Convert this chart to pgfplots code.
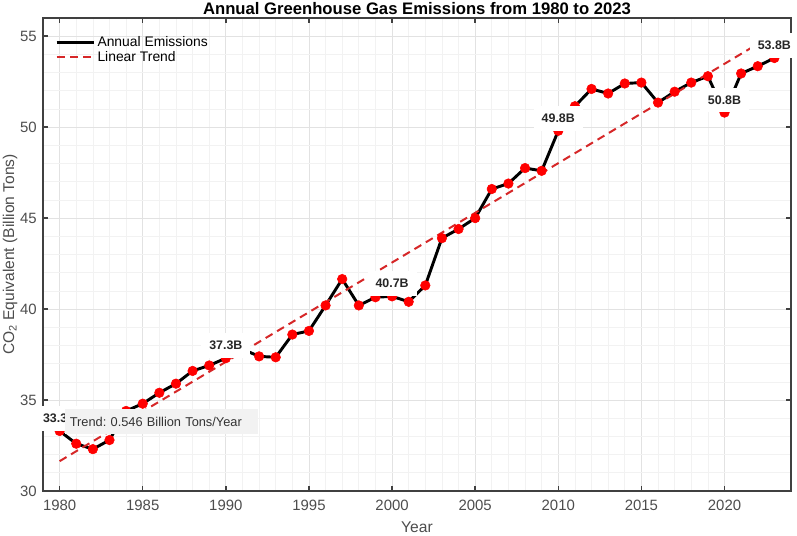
\documentclass[border=0pt]{standalone}
\usepackage{fontspec}
\setmainfont{Liberation Sans}
\usepackage{pgfplots}
\pgfplotsset{compat=1.18}

\definecolor{axisgray}{RGB}{64,64,64}
\definecolor{labelgray}{RGB}{77,77,77}
\definecolor{gridmajor}{RGB}{226,226,226}
\definecolor{gridminor}{RGB}{242,242,242}
\definecolor{trendred}{RGB}{214,39,40}
\definecolor{boxgray}{RGB}{242,242,242}

\pgfplotstableread{
year value
1980 33.3
1981 32.6
1982 32.3
1983 32.8
1984 34.4
1985 34.8
1986 35.4
1987 35.9
1988 36.6
1989 36.9
1990 37.3
1991 37.8
1992 37.4
1993 37.35
1994 38.6
1995 38.8
1996 40.2
1997 41.65
1998 40.2
1999 40.65
2000 40.7
2001 40.4
2002 41.3
2003 43.9
2004 44.4
2005 45.0
2006 46.6
2007 46.9
2008 47.75
2009 47.6
2010 49.8
2011 51.15
2012 52.1
2013 51.85
2014 52.4
2015 52.45
2016 51.35
2017 51.95
2018 52.45
2019 52.8
2020 50.8
2021 52.95
2022 53.35
2023 53.8
}\emissions

\pgfplotstableread{
year value
1980 31.64
2023 55.12
}\trend

\begin{document}
\frenchspacing
\begin{tikzpicture}
\begin{axis}[
  set layers,
  scale only axis,
  width=561pt, height=354.75pt,
  xmin=1979, xmax=2024,
  ymin=30, ymax=56,
  xtick={1980,1985,...,2020},
  ytick={30,35,...,55},
  minor x tick num=4,
  minor y tick num=4,
  grid=both,
  major grid style={gridmajor, line width=0.6pt},
  minor grid style={gridminor, line width=0.5pt},
  axis line style={axisgray, line width=1.1pt},
  tick style={axisgray, line width=1.1pt},
  major tick length=4pt,
  minor tick length=0pt,
  tick align=inside,
  xtick pos=both, ytick pos=both,
  /pgf/number format/assume math mode=true,
  /pgf/number format/1000 sep={},
  tick label style={font=\fontsize{11.2}{13}\selectfont, text=labelgray},
  xticklabel style={anchor=north, inner sep=0pt, yshift=-6.5pt},
  yticklabel style={anchor=east, inner sep=0pt, xshift=-4.5pt},
  xlabel={Year},
  ylabel={CO\textsubscript{2} Equivalent (Billion Tons)},
  label style={font=\fontsize{11.7}{14}\selectfont, text=labelgray},
  xlabel style={at={(axis description cs:0.5,-0.076)}, anchor=center},
  ylabel style={at={(axis description cs:-0.044,0.5)}, anchor=center, rotate=0},
  every axis title shift=0pt,
  title={Annual Greenhouse Gas Emissions from 1980 to 2023},
  title style={font=\bfseries\fontsize{12.5}{15}\selectfont, at={(axis description cs:0.5,1.021)}, anchor=center},
  clip=false,
  legend style={at={(0,1)}, anchor=north west, draw=none, fill=none,
    font=\fontsize{10.4}{12}\selectfont, text=black,
    xshift=6pt, yshift=-10pt, row sep=-1pt,
    nodes={inner sep=1.5pt}},
  legend cell align=left,
  legend image code/.code={\draw[#1] (0pt,0pt) -- (28pt,0pt);},
]
% yearly series: line, then the red markers on top
\addplot[black, line width=2.2pt, line join=round] table[x=year, y=value] {\emissions};
\addlegendentry{Annual Emissions}
\addplot[only marks, mark=*, mark size=3.6pt, mark options={fill=red, draw=red}, forget plot]
  table[x=year, y=value] {\emissions};
% least-squares trend
\addplot[trendred, line width=1.5pt, dash pattern=on 6pt off 4pt] table[x=year, y=value] {\trend};
\addlegendentry{Linear Trend}

\begin{pgfonlayer}{axis foreground}
% value labels every ten years and at the last year
\begin{scope}[every node/.style={anchor=south, fill=white, inner xsep=6pt, inner ysep=6pt,
    font=\bfseries\fontsize{9.3}{11}\selectfont, text=black!85}]
\node at (axis cs:1980,33.3) {33.3B};
\node at (axis cs:1990,37.3) {37.3B};
\node at (axis cs:2000,40.7) {40.7B};
\node at (axis cs:2010,49.8) {49.8B};
\node at (axis cs:2020,50.8) {50.8B};
\node at (axis cs:2023,53.8) {53.8B};
\end{scope}

\node[anchor=west, fill=boxgray, inner xsep=3.75pt, inner ysep=0pt, minimum height=18.75pt,
  text width=137pt, align=left, font=\fontsize{9.6}{11}\selectfont, text=black!80]
  at (axis cs:1980.3,33.8) {Trend: 0.546 Billion Tons/Year};
\end{pgfonlayer}
\end{axis}
\pgfresetboundingbox
\path[use as bounding box] (current axis.south west) ++(-32.25pt,-33.75pt) rectangle ++(597.75pt,402pt);
\end{tikzpicture}
\end{document}
